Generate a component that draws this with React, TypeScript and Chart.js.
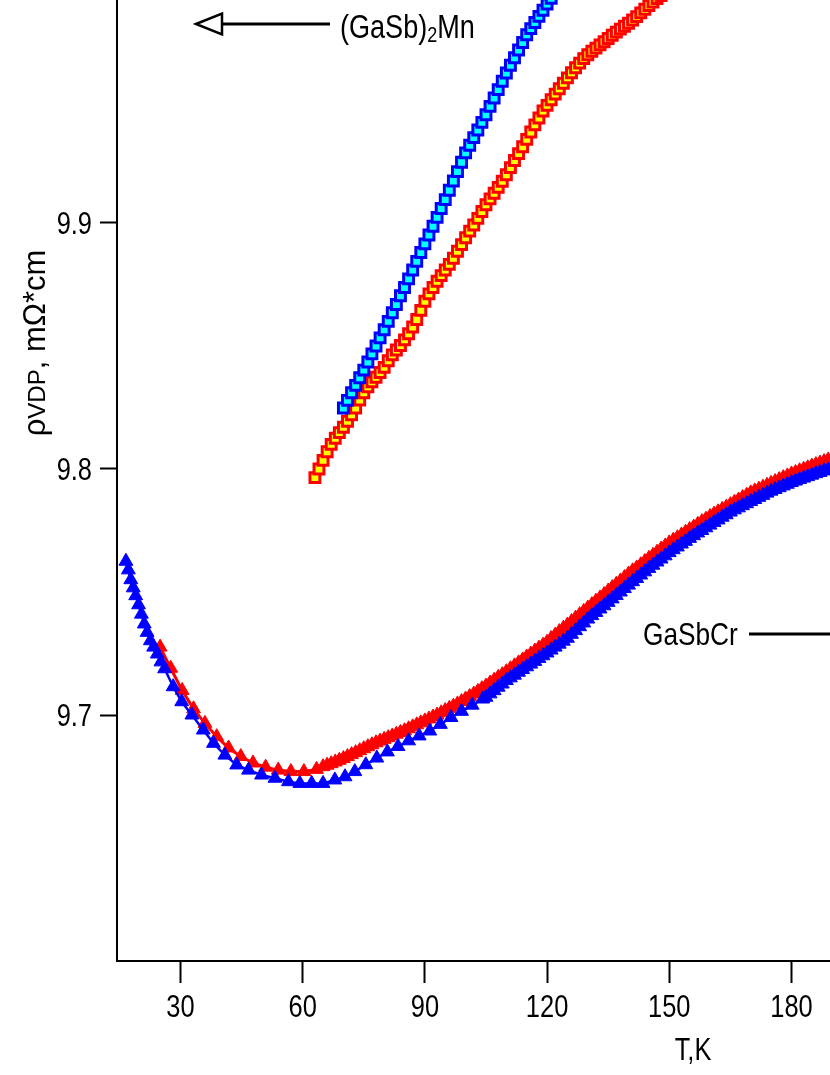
import React, { useEffect, useRef } from "react";
import { Chart, registerables } from "chart.js";
Chart.register(...registerables);

// ---- data (T in K, resistivity in mOhm*cm) ----
const crBlueT = [16.6, 17.2, 17.8, 18.4, 19.0, 19.7, 20.4, 21.1, 21.8, 22.6, 23.4, 24.3, 25.2, 26.1,
  28.2, 30.3, 32.8, 35.6, 38.1, 40.9, 43.8, 46.7, 49.9, 53.2, 56.5, 59.3, 62.2, 65.0, 67.9, 70.4, 72.8,
  75.5, 78.2, 80.8, 83.4, 86.0, 88.6, 91.2, 93.8, 96.4, 99.0, 101.6, 104.2,
  105, 106, 107, 108, 109, 110, 111, 112, 113, 114, 115, 116, 117, 118, 119, 120, 121, 122, 123, 124, 125,
  126, 127, 128, 129, 130, 131, 132, 133, 134, 135, 136, 137, 138, 139, 140, 141, 142, 143, 144, 145,
  146, 147, 148, 149, 150, 151, 152, 153, 154, 155, 156, 157, 158, 159, 160, 161, 162, 163, 164, 165,
  166, 167, 168, 169, 170, 171, 172, 173, 174, 175, 176, 177, 178, 179, 180, 181, 182, 183, 184, 185,
  186, 187, 188, 189, 190, 191, 192];
const crBlueV = [9.7625, 9.7590, 9.7550, 9.7517, 9.7485, 9.7448, 9.7410, 9.7370, 9.7336, 9.7302, 9.7276, 9.7248, 9.7216, 9.7188,
  9.7115, 9.7054, 9.7000, 9.6939, 9.6885, 9.6837, 9.6797, 9.6776, 9.6756, 9.6743, 9.6729, 9.6722, 9.6722, 9.6722, 9.6736, 9.6749, 9.6770,
  9.6798, 9.6825, 9.6850, 9.6872, 9.6895, 9.6915, 9.6935, 9.6962, 9.6990, 9.7015, 9.7040, 9.7065,
  9.7072, 9.7086, 9.7099, 9.7113, 9.7126, 9.7140, 9.7151, 9.7162, 9.7174, 9.7185, 9.7196, 9.7207, 9.7218, 9.7230, 9.7241, 9.7252,
  9.7264, 9.7276, 9.7288, 9.7300, 9.7312, 9.7328, 9.7343, 9.7359, 9.7374, 9.7390, 9.7404, 9.7417, 9.7431, 9.7444, 9.7458,
  9.7472, 9.7486, 9.7500, 9.7514, 9.7528, 9.7542, 9.7555, 9.7569, 9.7582, 9.7596, 9.7609, 9.7622, 9.7634, 9.7647, 9.7660,
  9.7672, 9.7683, 9.7695, 9.7706, 9.7718, 9.7729, 9.7740, 9.7750, 9.7761, 9.7772, 9.7783, 9.7793, 9.7804, 9.7814, 9.7825,
  9.7834, 9.7842, 9.7851, 9.7859, 9.7868, 9.7876, 9.7885, 9.7893, 9.7902, 9.7910, 9.7917, 9.7924, 9.7931, 9.7938, 9.7945,
  9.7951, 9.7957, 9.7963, 9.7969, 9.7975, 9.7981, 9.7986, 9.7992, 9.7997, 9.8003, 9.8008, 9.8013];

const crRedT = [25.0, 27.6, 30.4, 33.2, 36.0, 38.9, 41.8, 44.8, 47.8, 50.9, 54.0, 57.1, 60.3, 63.4,
  65, 66, 67, 68, 69, 70, 71, 72, 73, 74, 75, 76, 77, 78, 79, 80, 81, 82, 83, 84, 85,
  86, 87, 88, 89, 90, 91, 92, 93, 94, 95, 96, 97, 98, 99, 100, 101, 102, 103, 104, 105,
  106, 107, 108, 109, 110, 111, 112, 113, 114, 115, 116, 117, 118, 119, 120, 121, 122, 123, 124, 125,
  126, 127, 128, 129, 130, 131, 132, 133, 134, 135, 136, 137, 138, 139, 140, 141, 142, 143, 144, 145,
  146, 147, 148, 149, 150, 151, 152, 153, 154, 155, 156, 157, 158, 159, 160, 161, 162, 163, 164, 165,
  166, 167, 168, 169, 170, 171, 172, 173, 174, 175, 176, 177, 178, 179, 180, 181, 182, 183, 184, 185,
  186, 187, 188, 189, 190, 191, 192];
const crRedV = [9.7276, 9.7190, 9.7100, 9.7025, 9.6966, 9.6912, 9.6866, 9.6831, 9.6805, 9.6788, 9.6776, 9.6770, 9.6770, 9.6779,
  9.6790, 9.6796, 9.6802, 9.6809, 9.6816, 9.6823, 9.6831, 9.6839, 9.6847, 9.6855, 9.6863,
  9.6871, 9.6879, 9.6887, 9.6894, 9.6901, 9.6908, 9.6915, 9.6922, 9.6929, 9.6936,
  9.6944, 9.6952, 9.6960, 9.6968, 9.6976, 9.6984, 9.6992, 9.7000, 9.7009, 9.7018,
  9.7027, 9.7036, 9.7045, 9.7055, 9.7065, 9.7075, 9.7085, 9.7096, 9.7107, 9.7118,
  9.7130, 9.7141, 9.7153, 9.7164, 9.7176, 9.7188, 9.7200, 9.7212, 9.7224, 9.7236,
  9.7248, 9.7260, 9.7272, 9.7284, 9.7296, 9.7311, 9.7325, 9.7339, 9.7353, 9.7366,
  9.7380, 9.7394, 9.7408, 9.7421, 9.7435, 9.7449, 9.7463, 9.7476, 9.7490, 9.7504,
  9.7518, 9.7532, 9.7545, 9.7559, 9.7573, 9.7586, 9.7598, 9.7611, 9.7624, 9.7637,
  9.7649, 9.7662, 9.7675, 9.7687, 9.7700, 9.7711, 9.7721, 9.7732, 9.7743, 9.7754,
  9.7764, 9.7775, 9.7786, 9.7796, 9.7807, 9.7817, 9.7826, 9.7836, 9.7845, 9.7855,
  9.7865, 9.7874, 9.7884, 9.7893, 9.7903, 9.7911, 9.7918, 9.7926, 9.7934, 9.7942,
  9.7949, 9.7957, 9.7965, 9.7972, 9.7980, 9.7986, 9.7993, 9.7999, 9.8005, 9.8012,
  9.8018, 9.8024, 9.8030, 9.8037, 9.8043, 9.8049, 9.8055];

const mnBlueT = [70, 71, 72, 73, 74, 75, 76, 77, 78, 79, 80, 81, 82, 83, 84, 85, 86, 87, 88, 89, 90,
  91, 92, 93, 94, 95, 96, 97, 98, 99, 100, 101, 102, 103, 104, 105, 106, 107, 108, 109, 110,
  111, 112, 113, 114, 115, 116, 117, 118, 119, 120, 121, 122, 123, 124, 125];
const mnBlueV = [9.8248, 9.8279, 9.8310, 9.8340, 9.8371, 9.8402, 9.8435, 9.8468, 9.8500, 9.8533, 9.8566,
  9.8600, 9.8635, 9.8669, 9.8704, 9.8738, 9.8773, 9.8809, 9.8844, 9.8880, 9.8915,
  9.8951, 9.8987, 9.9023, 9.9059, 9.9095, 9.9133, 9.9171, 9.9209, 9.9247, 9.9285,
  9.9316, 9.9347, 9.9378, 9.9409, 9.9440, 9.9474, 9.9508, 9.9542, 9.9576, 9.9610,
  9.9641, 9.9672, 9.9703, 9.9734, 9.9765, 9.9790, 9.9815, 9.9840, 9.9865, 9.9890,
  9.9913, 9.9937, 9.9960, 9.9983, 10.0006];

const mnRedT = [63, 64, 65, 66, 67, 68, 69, 70, 71, 72, 73, 74, 75, 76, 77, 78, 79, 80, 81, 82, 83, 84, 85,
  86, 87, 88, 89, 90, 91, 92, 93, 94, 95, 96, 97, 98, 99, 100, 101, 102, 103, 104, 105,
  106, 107, 108, 109, 110, 111, 112, 113, 114, 115, 116, 117, 118, 119, 120, 121, 122, 123, 124, 125,
  126, 127, 128, 129, 130, 131, 132, 133, 134, 135, 136, 137, 138, 139, 140, 141, 142, 143, 144, 145,
  146, 147, 148, 149, 150];
const mnRedV = [9.7965, 9.8000, 9.8035, 9.8070, 9.8100, 9.8125, 9.8148, 9.8170, 9.8194, 9.8220, 9.8248,
  9.8280, 9.8310, 9.8334, 9.8354, 9.8373, 9.8392, 9.8413, 9.8440, 9.8464, 9.8484, 9.8502, 9.8525,
  9.8550, 9.8577, 9.8608, 9.8645, 9.8682, 9.8712, 9.8738, 9.8763, 9.8786, 9.8809, 9.8832, 9.8857,
  9.8885, 9.8912, 9.8940, 9.8967, 9.8992, 9.9019, 9.9047, 9.9074,
  9.9098, 9.9121, 9.9145, 9.9170, 9.9196, 9.9225, 9.9254, 9.9282, 9.9310, 9.9340,
  9.9370, 9.9399, 9.9427, 9.9455, 9.9478, 9.9501, 9.9524, 9.9546, 9.9568, 9.9590,
  9.9611, 9.9631, 9.9650, 9.9668, 9.9684, 9.9698, 9.9711, 9.9724, 9.9737, 9.9750,
  9.9763, 9.9776, 9.9788, 9.9800, 9.9812, 9.9825, 9.9839, 9.9854, 9.9869, 9.9884,
  9.9898, 9.9912, 9.9925, 9.9940, 9.9955];

const xTickStep = 30;
const yTickStep = 0.1;
const xRange = [14.41, 297];
const yRange = [9.6, 10.1];

// ---- layout constants ----
const OY = 289; // canvas shifted up (page y = canvas y - OY)
const CW = 1300;
const CH = 1075 + OY;
const SANS = '"Liberation Sans", Arial, Helvetica, sans-serif';
const NARROW_X = 0.82; // horizontal squeeze to mimic a narrow Helvetica
const TICK_SIZE = 31;

function pts(t: number[], v: number[]) {
  const n = Math.min(t.length, v.length);
  const out: { x: number; y: number }[] = [];
  for (let i = 0; i < n; i++) out.push({ x: t[i], y: v[i] });
  return out;
}

// draw narrow text: align 'left' | 'center' | 'right'
function narrowText(ctx: CanvasRenderingContext2D, s: string, x: number, y: number, size: number, align: string) {
  ctx.save();
  ctx.font = `${size}px ${SANS}`;
  const w = ctx.measureText(s).width * NARROW_X;
  let left = x;
  if (align === "center") left = x - w / 2;
  else if (align === "right") left = x - w;
  ctx.translate(left, y);
  ctx.scale(NARROW_X, 1);
  ctx.textAlign = "left";
  ctx.textBaseline = "alphabetic";
  ctx.fillText(s, 0, 0);
  ctx.restore();
  return w;
}

const annotations = {
  id: "annotations",
  afterDraw(chart: any) {
    const ctx: CanvasRenderingContext2D = chart.ctx;
    const Y = (y: number) => y + OY;
    ctx.save();
    ctx.strokeStyle = "#000";
    ctx.fillStyle = "#000";

    // tick labels (positions from the library's scales)
    const xs = chart.scales.x;
    const ys = chart.scales.y;
    for (const t of xs.ticks) {
      const px = xs.getPixelForValue(t.value);
      narrowText(ctx, String(Math.round(t.value)), px, xs.top + 56, TICK_SIZE, "center");
    }
    for (const t of ys.ticks) {
      const py = ys.getPixelForValue(t.value);
      narrowText(ctx, Number(t.value).toFixed(1), ys.right - 25, py + 11, TICK_SIZE, "right");
    }

    // arrow to the left axis
    ctx.lineWidth = 3;
    ctx.beginPath();
    ctx.moveTo(221, Y(24));
    ctx.lineTo(330, Y(24));
    ctx.stroke();
    ctx.beginPath();
    ctx.moveTo(196, Y(24));
    ctx.lineTo(222, Y(13.5));
    ctx.lineTo(222, Y(34.5));
    ctx.closePath();
    ctx.fillStyle = "#fff";
    ctx.fill();
    ctx.lineWidth = 2.5;
    ctx.stroke();
    ctx.fillStyle = "#000";

    // (GaSb)2Mn
    let x = 340;
    const base = Y(38);
    x += narrowText(ctx, "(GaSb)", x, base, 33, "left");
    x += narrowText(ctx, "2", x, base + 4, 22, "left");
    narrowText(ctx, "Mn", x, base, 33, "left");

    // GaSbCr
    narrowText(ctx, "GaSbCr", 643, Y(645), 32, "left");
    ctx.lineWidth = 3;
    ctx.beginPath();
    ctx.moveTo(749, Y(634));
    ctx.lineTo(900, Y(634));
    ctx.stroke();

    // x title
    narrowText(ctx, "T,K", 693, Y(1060), 31, "center");

    // y title (rotated)
    ctx.translate(45, Y(343));
    ctx.rotate(-Math.PI / 2);
    const parts: [string, number][] = [["ρ", 31], ["VDP", 24], [", mΩ*cm", 31]];
    let total = 0;
    for (const [s, f] of parts) { ctx.font = `${f}px ${SANS}`; total += ctx.measureText(s).width; }
    let px = -total / 2;
    ctx.textAlign = "left";
    ctx.textBaseline = "alphabetic";
    for (const [s, f] of parts) {
      ctx.font = `${f}px ${SANS}`;
      ctx.fillText(s, px, 0);
      px += ctx.measureText(s).width;
    }
    ctx.restore();
  },
};

export default function App() {
  const ref = useRef<HTMLCanvasElement>(null);
  useEffect(() => {
    const canvas = ref.current!;
    const chart = new Chart(canvas, {
      type: "scatter",
      data: {
        datasets: [
          {
            label: "GaSbCr (blue)",
            data: pts(crBlueT, crBlueV),
            showLine: true,
            borderColor: "#0000ff",
            borderWidth: 2.5,
            pointStyle: "triangle",
            pointRadius: 8,
            pointBackgroundColor: "#0000ff",
            pointBorderColor: "#0000ff",
            pointBorderWidth: 1,
          },
          {
            label: "GaSbCr (red)",
            data: pts(crRedT, crRedV),
            showLine: true,
            borderColor: "#ff0000",
            borderWidth: 3,
            pointStyle: "triangle",
            pointRadius: 8,
            pointBackgroundColor: "#ff0000",
            pointBorderColor: "#ff0000",
            pointBorderWidth: 1,
          },
          {
            label: "(GaSb)2Mn (blue)",
            data: pts(mnBlueT, mnBlueV),
            showLine: false,
            pointStyle: "rect",
            pointRadius: 7,
            pointBackgroundColor: "#00ffff",
            pointBorderColor: "#0000ff",
            pointBorderWidth: 3,
          },
          {
            label: "(GaSb)2Mn (red)",
            data: pts(mnRedT, mnRedV),
            showLine: false,
            pointStyle: "rect",
            pointRadius: 7,
            pointBackgroundColor: "#ffff00",
            pointBorderColor: "#ff0000",
            pointBorderWidth: 3,
          },
        ],
      },
      options: {
        responsive: false,
        animation: false,
        devicePixelRatio: 1,
        layout: { padding: { top: 20, left: 0, right: 32, bottom: 0 } },
        plugins: { legend: { display: false }, tooltip: { enabled: false } },
        scales: {
          x: {
            type: "linear",
            min: xRange[0],
            max: xRange[1],
            afterBuildTicks: (s: any) => {
              s.ticks = s.ticks.filter((t: any) => Math.abs(t.value / xTickStep - Math.round(t.value / xTickStep)) < 1e-6);
            },
            afterFit: (s: any) => { s.height = 114; },
            ticks: { stepSize: xTickStep, autoSkip: false, display: false },
            grid: { display: true, drawOnChartArea: false, drawTicks: true, tickLength: 22, tickWidth: 2, tickColor: "#000" },
            border: { display: true, color: "#000", width: 2 },
          },
          y: {
            type: "linear",
            min: yRange[0],
            max: yRange[1],
            afterBuildTicks: (s: any) => {
              s.ticks = s.ticks.filter((t: any) => t.value > yRange[0] + yTickStep / 2);
            },
            afterFit: (s: any) => { s.width = 117; },
            ticks: { stepSize: yTickStep, autoSkip: false, display: false },
            grid: { display: true, drawOnChartArea: false, drawTicks: true, tickLength: 17, tickWidth: 2, tickColor: "#000" },
            border: { display: true, color: "#000", width: 2 },
          },
        },
      },
      plugins: [annotations],
    } as any);
    return () => chart.destroy();
  }, []);
  return (
    <div style={{ position: "fixed", left: 0, top: 0, width: 830, height: 1075, overflow: "hidden", background: "#fff" }}>
      <canvas ref={ref} width={CW} height={CH} style={{ position: "absolute", left: 0, top: -OY, width: CW, height: CH }} />
    </div>
  );
}
